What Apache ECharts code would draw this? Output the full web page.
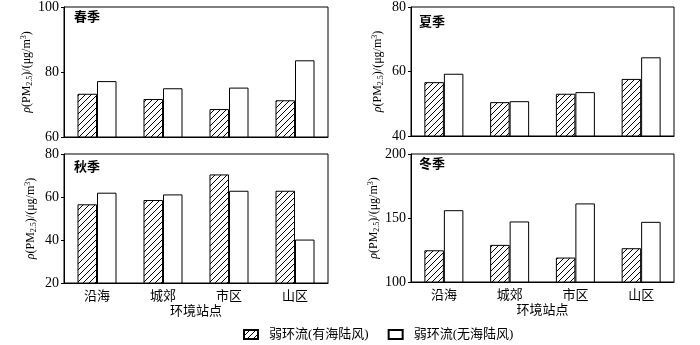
<!DOCTYPE html>
<html><head><meta charset="utf-8">
<script src="https://cdn.jsdelivr.net/npm/echarts@6/dist/echarts.min.js"></script>
<style>html,body{margin:0;padding:0;background:#fff}#c{width:700px;height:345px}</style>
</head><body><div id="c"></div>
<script>
const categories = ['沿海', '城郊', '市区', '山区'];
const seasons = ['春季', '夏季', '秋季', '冬季'];
const seriesNames = ['弱环流(有海陆风)', '弱环流(无海陆风)'];
const springWith = [73.3, 71.7, 68.6, 71.3];
const springWithout = [77.2, 75.0, 75.2, 83.6];
const summerWith = [56.7, 50.5, 53.1, 57.7];
const summerWithout = [59.3, 50.8, 53.6, 64.4];
const autumnWith = [56.6, 58.6, 70.5, 62.9];
const autumnWithout = [62.0, 61.2, 62.9, 40.2];
const winterWith = [124.8, 129.0, 119.1, 126.4];
const winterWithout = [156.1, 147.3, 161.4, 147.0];
const yMin = [60, 40, 20, 100];
const yMax = [100, 80, 80, 200];
const yInterval = [20, 20, 20, 50];
const xTitle = '环境站点';

const withData = [springWith, summerWith, autumnWith, winterWith];
const withoutData = [springWithout, summerWithout, autumnWithout, winterWithout];

// hatch pattern
const pc = document.createElement('canvas');
pc.width = 6; pc.height = 6;
const ctx = pc.getContext('2d');
ctx.fillStyle = '#fff'; ctx.fillRect(0, 0, 6, 6);
ctx.strokeStyle = '#000'; ctx.lineWidth = 1;
ctx.beginPath();
ctx.moveTo(-1, 7); ctx.lineTo(7, -1);
ctx.moveTo(-4, 4); ctx.lineTo(4, -4);
ctx.moveTo(2, 10); ctx.lineTo(10, 2);
ctx.stroke();
const hatch = { image: pc, repeat: 'repeat' };

const latin = 'Liberation Serif';
const cjk = '"Noto Sans CJK SC"';
const fam = latin + ', ' + cjk;

const grids = [
  { left: 64, top: 7, width: 264, height: 130 },
  { left: 411, top: 7, width: 263, height: 129 },
  { left: 64, top: 154, width: 264, height: 129 },
  { left: 411, top: 154, width: 263, height: 128 }
];
const titlePos = [[74, 10], [419, 15], [74, 160], [419, 157]];

const option = {
  animation: false,
  backgroundColor: '#fff',
  title: seasons.map((s, i) => ({
    text: s, left: titlePos[i][0], top: titlePos[i][1], padding: 0,
    textStyle: { fontSize: 13, fontWeight: 'bold', color: '#000', fontFamily: cjk }
  })),
  legend: {
    data: seriesNames, left: 243, top: 328, padding: 0, itemWidth: 14, itemHeight: 9, itemGap: 19,
    icon: 'rect',
    textStyle: { fontSize: 13, color: '#000', fontFamily: fam, padding: [0, 0, 0, 6] }
  },
  grid: grids.map(g => Object.assign({ show: true, borderColor: '#000', borderWidth: 1, backgroundColor: 'transparent' }, g)),
  xAxis: grids.map((g, i) => ({
    type: 'category', gridIndex: i, data: categories,
    axisLine: { lineStyle: { color: '#000', width: 1 } },
    axisTick: { inside: true, length: 4, lineStyle: { color: '#000' } },
    axisLabel: { show: i >= 2, fontSize: 13, color: '#000', fontFamily: cjk, margin: 6 },
    name: i >= 2 ? xTitle : '', nameLocation: 'middle', nameGap: 21,
    nameTextStyle: { fontSize: 13, color: '#000', fontFamily: cjk }
  })),
  yAxis: grids.map((g, i) => ({
    type: 'value', gridIndex: i, min: yMin[i], max: yMax[i], interval: yInterval[i],
    splitLine: { show: false },
    axisLine: { show: true, lineStyle: { color: '#000', width: 1 } },
    axisTick: { show: true, length: 3, lineStyle: { color: '#000' } },
    axisLabel: { fontSize: 14, color: '#000', fontFamily: latin, margin: 5 },
    name: '{it|ρ}(PM{sub|2.5})/(μg/m{sup|3})',
    nameLocation: 'middle', nameRotate: 90, nameGap: 26,
    nameTextStyle: {
      fontSize: 12, color: '#000', fontFamily: latin, lineHeight: 14,
      rich: {
        it: { fontSize: 12, fontStyle: 'italic', fontFamily: latin, color: '#000', lineHeight: 14 },
        sub: { fontSize: 8, fontFamily: latin, color: '#000', verticalAlign: 'bottom', lineHeight: 14, padding: [5, 0, 0, 0] },
        sup: { fontSize: 8, fontFamily: latin, color: '#000', verticalAlign: 'top', lineHeight: 14, padding: [0, 0, 5, 0] }
      }
    }
  })),
  series: []
};

for (let i = 0; i < 4; i++) {
  option.series.push({
    name: seriesNames[0], type: 'bar', xAxisIndex: i, yAxisIndex: i,
    data: withData[i], barWidth: 19.5, barGap: '0%',
    itemStyle: { color: hatch, borderColor: '#000', borderWidth: 1 }
  });
  option.series.push({
    name: seriesNames[1], type: 'bar', xAxisIndex: i, yAxisIndex: i,
    data: withoutData[i], barWidth: 19.5, barGap: '0%',
    itemStyle: { color: '#fff', borderColor: '#000', borderWidth: 1 }
  });
}

const chart = echarts.init(document.getElementById('c'), null, { renderer: 'canvas' });
chart.setOption(option);
</script>
</body></html>
